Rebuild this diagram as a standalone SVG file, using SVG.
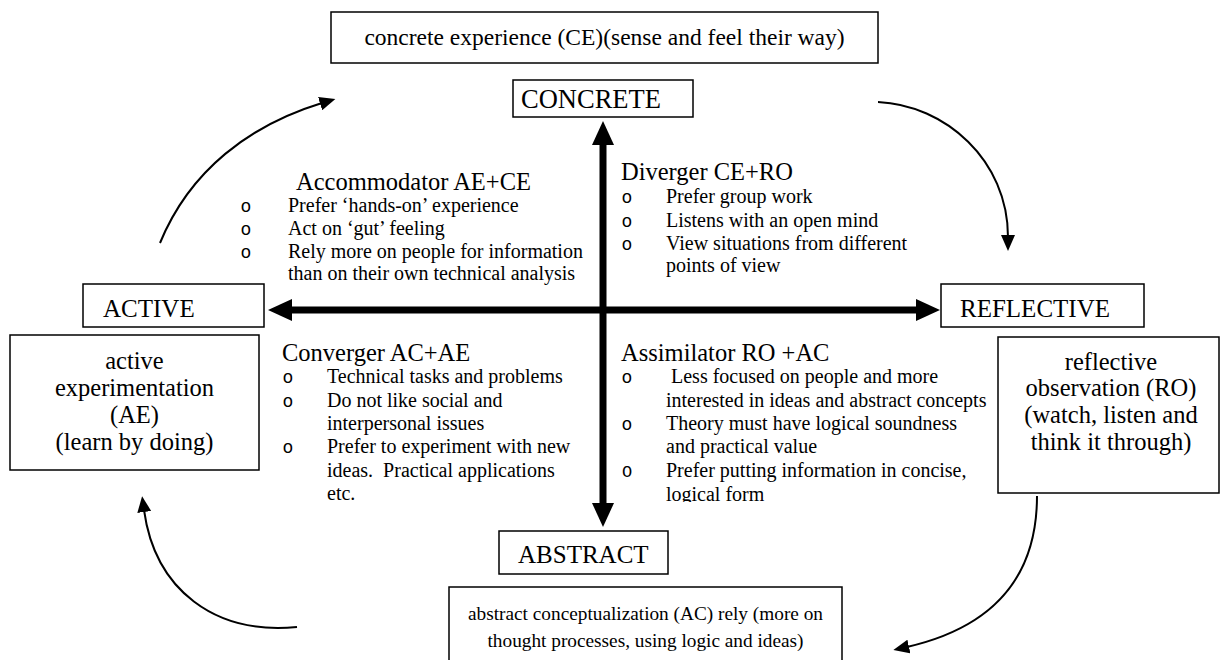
<svg xmlns="http://www.w3.org/2000/svg" width="1223" height="660" viewBox="0 0 1223 660">
<style>
  .box { fill: #fff; stroke: #000; stroke-width: 1.5; }
  text { font-family: "Liberation Serif", "Times New Roman", serif; fill: #000; }
  .big { font-size: 24.5px; }
  .top { font-size: 23.5px; }
  .lbl { font-size: 25px; }
  .hdr { font-size: 24.5px; }
  .bt { font-size: 20px; }
  .bot { font-size: 19.3px; }
  .bul { font-family: "Liberation Mono", "Courier New", monospace; font-size: 18px; text-anchor: middle; }
  .mid { text-anchor: middle; }
  .axis { stroke: #000; stroke-width: 7; fill: none; }
  .cyc { stroke: #000; stroke-width: 2; fill: none; }
</style>
<defs>
  <marker id="thick" viewBox="0 0 24 22" refX="0" refY="11" markerWidth="24" markerHeight="22" markerUnits="userSpaceOnUse" orient="auto-start-reverse">
    <path d="M0,0 L24,11 L0,22 Z" fill="#000"/>
  </marker>
  <marker id="thin" viewBox="0 0 16 14" refX="2" refY="7" markerWidth="16" markerHeight="14" markerUnits="userSpaceOnUse" orient="auto">
    <path d="M0,0 L16,7 L0,14 Z" fill="#000"/>
  </marker>
  <clipPath id="assimClip"><rect x="600" y="330" width="400" height="172"/></clipPath>
</defs>

<g id="connectors">
  <line class="axis" x1="603" y1="145" x2="603" y2="503" marker-start="url(#thick)" marker-end="url(#thick)"/>
  <line class="axis" x1="292" y1="310" x2="916" y2="310" marker-start="url(#thick)" marker-end="url(#thick)"/>
  <path class="cyc" d="M160,243 C190,170 250,125 322,103" marker-end="url(#thin)"/>
  <path class="cyc" d="M878,102 C945,105 1008,160 1008,237" marker-end="url(#thin)"/>
  <path class="cyc" d="M1037,496 C1037,580 990,628 907,647" marker-end="url(#thin)"/>
  <path class="cyc" d="M297,627 C215,635 155,590 144,510" marker-end="url(#thin)"/>
</g>

<g id="ce">
  <rect class="box" x="331" y="12" width="547" height="51"/>
  <text class="top mid" x="604.5" y="45">concrete experience (CE)(sense and feel their way)</text>
</g>
<g id="concrete">
  <rect class="box" x="513" y="80" width="180" height="37"/>
  <text class="lbl" x="521" y="108" style="font-size:26.5px">CONCRETE</text>
</g>
<g id="active">
  <rect class="box" x="83" y="284" width="181" height="43"/>
  <text class="lbl" x="103" y="317">ACTIVE</text>
</g>
<g id="reflective">
  <rect class="box" x="941" y="284" width="203" height="43"/>
  <text class="lbl" x="960" y="317">REFLECTIVE</text>
</g>
<g id="abstract">
  <rect class="box" x="499" y="531" width="169" height="43"/>
  <text class="lbl" x="518" y="563">ABSTRACT</text>
</g>
<g id="ae">
  <rect class="box" x="10" y="335" width="249" height="135"/>
  <text class="big mid" x="134.5" y="369">active</text>
  <text class="big mid" x="134.5" y="396">experimentation</text>
  <text class="big mid" x="134.5" y="423">(AE)</text>
  <text class="big mid" x="134.5" y="450">(learn by doing)</text>
</g>
<g id="ro">
  <rect class="box" x="998" y="337" width="221" height="156"/>
  <text class="big mid" x="1111" y="370">reflective</text>
  <text class="big mid" x="1111" y="396">observation (RO)</text>
  <text class="big mid" x="1111" y="423">(watch, listen and</text>
  <text class="big mid" x="1111" y="450">think it through)</text>
</g>
<g id="ac">
  <rect class="box" x="449" y="587" width="393" height="90"/>
  <text class="bot mid" x="645.5" y="620">abstract conceptualization (AC) rely (more on</text>
  <text class="bot mid" x="645.5" y="647">thought processes, using logic and ideas)</text>
</g>

<g id="accommodator">
  <text class="hdr" x="296" y="190">Accommodator AE+CE</text>
  <text class="bul" x="246" y="212">o</text>
  <text class="bul" x="246" y="235">o</text>
  <text class="bul" x="246" y="258">o</text>
  <text class="bt" x="288" y="212">Prefer ‘hands-on’ experience</text>
  <text class="bt" x="288" y="235">Act on ‘gut’ feeling</text>
  <text class="bt" x="288" y="258">Rely more on people for information</text>
  <text class="bt" x="288" y="280">than on their own technical analysis</text>
</g>
<g id="diverger">
  <text class="hdr" x="621" y="180">Diverger CE+RO</text>
  <text class="bul" x="627" y="203">o</text>
  <text class="bul" x="627" y="227">o</text>
  <text class="bul" x="627" y="250">o</text>
  <text class="bt" x="666" y="203">Prefer group work</text>
  <text class="bt" x="666" y="227">Listens with an open mind</text>
  <text class="bt" x="666" y="250">View situations from different</text>
  <text class="bt" x="666" y="272">points of view</text>
</g>
<g id="converger">
  <text class="hdr" x="282" y="361">Converger AC+AE</text>
  <text class="bul" x="288" y="383">o</text>
  <text class="bul" x="288" y="407">o</text>
  <text class="bul" x="288" y="453">o</text>
  <text class="bt" x="327" y="383">Technical tasks and problems</text>
  <text class="bt" x="327" y="407">Do not like social and</text>
  <text class="bt" x="327" y="430">interpersonal issues</text>
  <text class="bt" x="327" y="453">Prefer to experiment with new</text>
  <text class="bt" x="327" y="477" style="white-space:pre">ideas.  Practical applications</text>
  <text class="bt" x="327" y="500">etc.</text>
</g>
<g id="assimilator" clip-path="url(#assimClip)">
  <text class="hdr" x="621" y="361">Assimilator RO +AC</text>
  <text class="bul" x="627" y="383">o</text>
  <text class="bul" x="627" y="430">o</text>
  <text class="bul" x="627" y="477" style="font-size:17px">O</text>
  <text class="bt" x="671" y="383">Less focused on people and more</text>
  <text class="bt" x="666" y="407">interested in ideas and abstract concepts</text>
  <text class="bt" x="666" y="430">Theory must have logical soundness</text>
  <text class="bt" x="666" y="453">and practical value</text>
  <text class="bt" x="666" y="477">Prefer putting information in concise,</text>
  <text class="bt" x="666" y="501">logical form</text>
</g>
</svg>
